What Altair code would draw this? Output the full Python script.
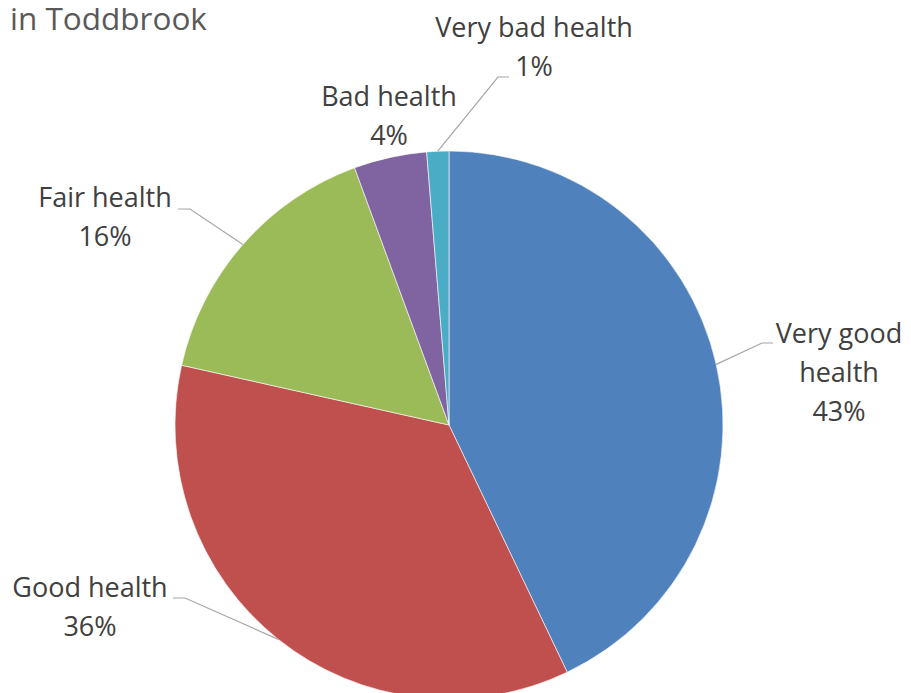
import altair as alt
import pandas as pd
import numpy as np

# ---- data ----
categories = ["Very good health", "Good health", "Fair health", "Bad health", "Very bad health"]
label_text = ["Very good\nhealth", "Good health", "Fair health", "Bad health", "Very bad health"]
shares = [42.9, 35.6, 15.9, 4.3, 1.3]
title_text = "in Toddbrook"

# ---- style / layout ----
colors = ["#4F81BD", "#C0504D", "#9BBB59", "#8064A2", "#4BACC6"]
W, H = 895, 834
CX, CY = 441, 417  # pie centre inside the plot area (pixels from top-left)
R = 274
# label anchor (first baseline, centre x) relative to pie centre, y upwards
label_anchor = [(390, 82), (-359, -172), (-344, 218), (-60, 319), (85, 388)]
# leader line elbow / end points relative to pie centre (empty = no leader)
leader_pts = [
    [(313, 82), (324, 82)],
    [(-264, -173), (-276, -173)],
    [(-259, 216), (-271, 216)],
    [],
    [(49, 348), (60, 348)],
]
title_anchor = (-439, 395)

total = sum(shares)
df = pd.DataFrame({
    "cat": categories,
    "share": shares,
    "order": list(range(len(categories))),
})
df["pct"] = [f"{round(s / total * 100)}%" for s in shares]
df["label"] = [f"{t}\n{p}" for t, p in zip(label_text, df["pct"])]
df["lx"] = [a[0] for a in label_anchor]
df["ly"] = [a[1] for a in label_anchor]

# mid-angles of slices (clockwise from 12 o'clock)
cum = np.cumsum([0] + shares[:-1])
mid = [(c + s / 2) / total * 2 * np.pi for c, s in zip(cum, shares)]

rows = []
for i, cat in enumerate(categories):
    if not leader_pts[i]:
        continue
    rows.append({"cat": cat, "seq": 0, "x": R * np.sin(mid[i]), "y": R * np.cos(mid[i])})
    for j, (px, py) in enumerate(leader_pts[i]):
        rows.append({"cat": cat, "seq": j + 1, "x": px, "y": py})
leaders = pd.DataFrame(rows)

xs = alt.Scale(domain=[-CX, W - CX], nice=False, zero=False)
ys = alt.Scale(domain=[-(H - CY), CY], nice=False, zero=False)

pie = alt.Chart(df).mark_arc(outerRadius=R, stroke="white", strokeWidth=0.6).encode(
    x=alt.X(datum=0, scale=xs, axis=None),
    y=alt.Y(datum=0, scale=ys, axis=None),
    theta=alt.Theta("share:Q", stack=True),
    color=alt.Color("cat:N", scale=alt.Scale(domain=categories, range=colors), legend=None),
    order=alt.Order("order:Q"),
)

lines = alt.Chart(leaders).mark_line(color="#A6A6A6", strokeWidth=1.2).encode(
    x=alt.X("x:Q", scale=xs, axis=None),
    y=alt.Y("y:Q", scale=ys, axis=None),
    detail="cat:N",
    order="seq:Q",
)

labels = alt.Chart(df).mark_text(
    font="Open Sans", fontSize=27, color="#404040", align="center",
    baseline="alphabetic", lineBreak="\n", lineHeight=39,
).encode(
    x=alt.X("lx:Q", scale=xs, axis=None),
    y=alt.Y("ly:Q", scale=ys, axis=None),
    text="label:N",
)

tdf = pd.DataFrame({"t": [title_text], "x": [title_anchor[0]], "y": [title_anchor[1]]})
title = alt.Chart(tdf).mark_text(
    font="Open Sans", fontSize=31.5, color="#595959",
    align="left", baseline="alphabetic",
).encode(
    x=alt.X("x:Q", scale=xs, axis=None),
    y=alt.Y("y:Q", scale=ys, axis=None),
    text="t:N",
)

chart = alt.layer(pie, lines, labels, title).properties(
    width=W, height=H, padding=0, autosize="none"
).configure_view(stroke=None)

chart.save("out.html", embed_options={"renderer": "svg", "actions": False})
